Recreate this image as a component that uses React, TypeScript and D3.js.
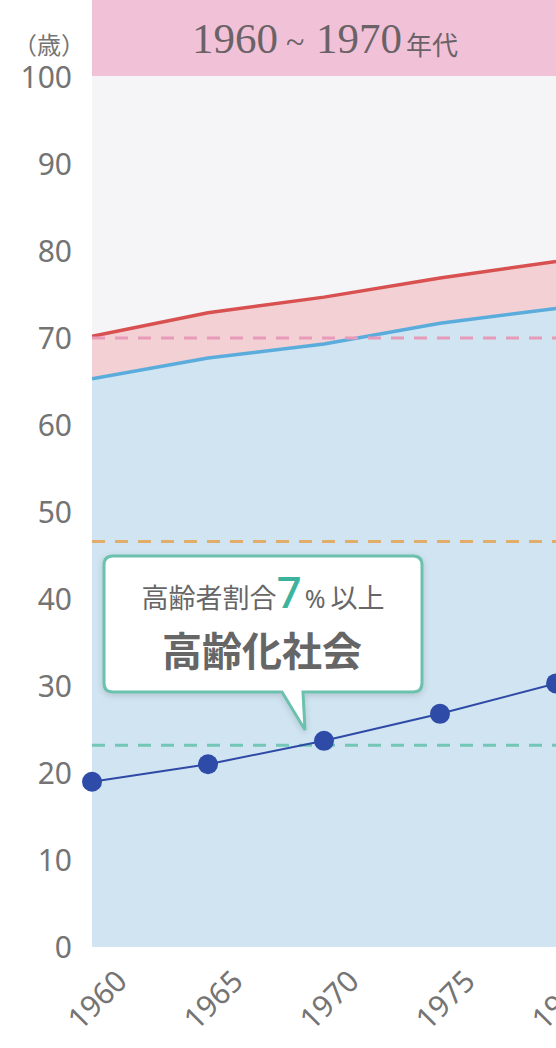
import React from "react";
import * as d3 from "d3";

const years = [1960, 1965, 1970, 1975, 1980];
const femaleLife = [70.2, 72.9, 74.7, 76.9, 78.8];
const maleLife = [65.3, 67.7, 69.3, 71.7, 73.4];
const dotValues = [19.0, 21.0, 23.7, 26.8, 30.3];
const refValues = [70, 46.6, 23.2];
const refColors = ["#e89ab9", "#e2ad6b", "#74c6b6"];
const yTicks = [0, 10, 20, 30, 40, 50, 60, 70, 80, 90, 100];
const xTickLabels = ["1960", "1965", "1970", "1975", "1980"];
const titleStart = "1960";
const titleTilde = "~";
const titleEnd = "1970";
const titleSuffix = "年代";
const yUnit = "（歳）";
const noteLine1a = "高齢者割合";
const noteNum = "7";
const notePct = "%";
const noteLine1b = "以上";
const noteLine2 = "高齢化社会";

const W = 556;
const H = 1048;
const left = 92;
const right = 556;
const top = 76;
const bottom = 947;

export default function App() {
  const x = d3.scaleLinear().domain([1960, 1980]).range([left, right]);
  const y = d3.scaleLinear().domain([0, 100]).range([bottom, 77]);

  const pts = years.map((yr, i) => ({ yr, f: femaleLife[i], m: maleLife[i], d: dotValues[i] }));

  const blueArea = d3
    .area<any>()
    .x((d) => x(d.yr))
    .y0(y(0))
    .y1((d) => y(d.m))(pts) as string;
  const pinkArea = d3
    .area<any>()
    .x((d) => x(d.yr))
    .y0((d) => y(d.m))
    .y1((d) => y(d.f))(pts) as string;
  const femaleLine = d3
    .line<any>()
    .x((d) => x(d.yr))
    .y((d) => y(d.f))(pts) as string;
  const maleLine = d3
    .line<any>()
    .x((d) => x(d.yr))
    .y((d) => y(d.m))(pts) as string;
  const dotLine = d3
    .line<any>()
    .x((d) => x(d.yr))
    .y((d) => y(d.d))(pts) as string;

  const sans = "'Noto Sans', 'Open Sans', sans-serif";
  const cjk = "'Noto Sans CJK JP', 'Noto Sans', sans-serif";
  const serif = "'Liberation Serif', 'Times New Roman', serif";
  const grey = "#747474";
  const titleColor = "#6b6268";

  // callout box
  const bx = 104, by = 556, bw = 318, bh = 136, r = 9;
  const calloutPath =
    `M${bx + r},${by} H${bx + bw - r} Q${bx + bw},${by} ${bx + bw},${by + r} ` +
    `V${by + bh - r} Q${bx + bw},${by + bh} ${bx + bw - r},${by + bh} ` +
    `H${303} L${305},${730} L${282},${by + bh} ` +
    `H${bx + r} Q${bx},${by + bh} ${bx},${by + bh - r} V${by + r} Q${bx},${by} ${bx + r},${by} Z`;

  return (
    <svg
      width={W}
      height={H}
      style={{ position: "absolute", left: 0, top: 0, background: "#fff" }}
    >
      <defs>
        <clipPath id="plotClip">
          <rect x={left} y={top} width={right - left} height={bottom - top} />
        </clipPath>
        <filter id="shadow" x="-10%" y="-10%" width="120%" height="130%">
          <feDropShadow dx="0" dy="2" stdDeviation="3" floodColor="#000" floodOpacity="0.15" />
        </filter>
      </defs>

      {/* header band */}
      <rect x={left} y={0} width={right - left} height={top} fill="#f1c2d7" />
      <g fill={titleColor}>
        <text x={192} y={53} fontFamily={serif} fontSize={43}>{titleStart}</text>
        <text x={286} y={53} fontFamily={serif} fontSize={34}>{titleTilde}</text>
        <text x={316} y={53} fontFamily={serif} fontSize={43}>{titleEnd}</text>
        <text x={406} y={55} fontFamily={cjk} fontSize={26}>{titleSuffix}</text>
      </g>
      <text x={49} y={54} textAnchor="middle" fill={grey} fontFamily={cjk} fontSize={24}>
        {yUnit}
      </text>

      {/* plot background */}
      <rect x={left} y={top} width={right - left} height={bottom - top} fill="#f5f5f8" />
      <g clipPath="url(#plotClip)">
        <path d={pinkArea} fill="#f2d0d4" />
        <path d={blueArea} fill="#d0e4f1" />
        <path d={femaleLine} fill="none" stroke="#d85150" strokeWidth={3.5} />
        <path d={maleLine} fill="none" stroke="#5aacdc" strokeWidth={3.5} />
        {refValues.map((v, i) => (
          <line
            key={i}
            x1={left}
            x2={right}
            y1={y(v)}
            y2={y(v)}
            stroke={refColors[i]}
            strokeWidth={3}
            strokeDasharray="13 10"
          />
        ))}
      </g>

      {/* y ticks */}
      {yTicks.map((t) => (
        <text
          key={t}
          x={72}
          y={y(t) + 11}
          textAnchor="end"
          fill={grey}
          fontFamily={sans}
          fontSize={30}
        >
          {t}
        </text>
      ))}

      {/* x ticks */}
      {xTickLabels.map((lab, i) => (
        <text
          key={lab}
          transform={`translate(${x(years[i]) + 37},${983}) rotate(-45)`}
          textAnchor="end"
          fill={grey}
          fontFamily={sans}
          fontSize={30}
        >
          {lab}
        </text>
      ))}

      {/* callout */}
      <path d={calloutPath} fill="#fff" stroke="#6cc0ae" strokeWidth={3} filter="url(#shadow)" />
      <text x={263} y={608} textAnchor="middle" fill="#666" fontFamily={cjk} fontSize={27}>
        {noteLine1a}
        <tspan fill="#3db39e" fontFamily={sans} fontSize={44} fontWeight={500}>
          {noteNum}
        </tspan>
        <tspan fontFamily={sans} fontSize={25} dx={3}>{notePct}</tspan>
        <tspan dx={5}>{noteLine1b}</tspan>
      </text>
      <text x={262} y={666} textAnchor="middle" fill="#666" fontFamily={cjk} fontSize={40} fontWeight={700}>
        {noteLine2}
      </text>

      {/* dots */}
      <path d={dotLine} fill="none" stroke="#2e4aa6" strokeWidth={2} />
      {pts.map((p) => (
        <circle key={p.yr} cx={x(p.yr)} cy={y(p.d)} r={10} fill="#2e4ba8" />
      ))}
    </svg>
  );
}
